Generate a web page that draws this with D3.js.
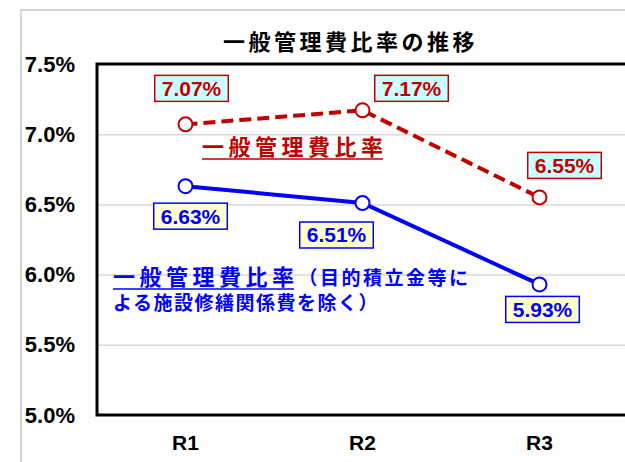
<!DOCTYPE html>
<html lang="ja">
<head>
  <meta charset="UTF-8">
  <title>一般管理費比率の推移</title>
  <script src="https://d3js.org/d3.v7.min.js"></script>
  <style>
    body { margin: 0; background: #fff; }
    .gridlines .domain { stroke: none; }
    .gridlines line { stroke: #d9d9d9; stroke-width: 1.5; }
    .axis .domain { stroke: none; }
    .axis text { font: bold 22px Arial, "Liberation Sans", sans-serif; fill: #000; }
    .xaxis text { font-size: 21px; }
  </style>
</head>
<body>
<svg id="chart" width="625" height="462"></svg>
<script>
  // data
  const categories = ["R1", "R2", "R3"];
  const ratioAll = [7.07, 7.17, 6.55];     // 一般管理費比率
  const ratioExcl = [6.63, 6.51, 5.93];    // 目的積立金等による施設修繕関係費を除く
  const yTicks = [5.0, 5.5, 6.0, 6.5, 7.0, 7.5];

  const svg = d3.select("svg#chart");
  const jp = "'Noto Sans CJK JP', 'Noto Sans', sans-serif";
  const red = "#c00000", blue = "#0000ff";

  let margin = {top: 64, left: 97, bottom: 47};
  let plotRight = 628;
  let plotBottom = 462 - margin.bottom;

  // outer frame (gray)
  svg.append("rect")
     .attr("x", 21).attr("y", 10)
     .attr("width", 700).attr("height", 500)
     .style("fill", "none")
     .style("stroke", "#c8c8c8")
     .style("stroke-width", 1.5);

  const x = d3.scaleBand().domain(categories).range([margin.left, plotRight]);
  const y = d3.scaleLinear().domain([5.0, 7.5]).range([plotBottom, margin.top]);
  const cx = d => x(d) + x.bandwidth() / 2;

  // gridlines
  svg.append("g")
     .attr("class", "gridlines")
     .attr("transform", `translate(${margin.left},0)`)
     .call(d3.axisLeft(y).tickValues(yTicks.slice(1, -1)).tickFormat("").tickSize(-(plotRight - margin.left)));

  // plot frame
  svg.append("path")
     .attr("d", `M${plotRight + 5},${margin.top}H${margin.left}V${plotBottom}H${plotRight + 5}`)
     .style("fill", "none")
     .style("stroke", "#000")
     .style("stroke-width", 3);

  // axes
  svg.append("g")
     .attr("class", "axis")
     .attr("transform", `translate(${margin.left},0)`)
     .call(d3.axisLeft(y).tickValues(yTicks).tickFormat(d => d.toFixed(1) + "%").tickSize(0).tickPadding(22));

  svg.append("g")
     .attr("class", "axis xaxis")
     .attr("transform", `translate(0,${plotBottom})`)
     .call(d3.axisBottom(x).tickSize(0).tickPadding(20));

  // title
  svg.append("text")
     .attr("x", 223).attr("y", 50)
     .style("font", `bold 22px ${jp}`)
     .style("letter-spacing", "3.5px")
     .text("一般管理費比率の推移");

  const line = d3.line().x((d, i) => cx(categories[i])).y(d => y(d));

  function drawSeries(values, color, dash, fill, offsets) {
    svg.append("path")
       .datum(values)
       .attr("d", line)
       .style("fill", "none")
       .style("stroke", color)
       .style("stroke-width", 4)
       .style("stroke-dasharray", dash);

    values.forEach((v, i) => {
      svg.append("circle")
         .attr("cx", cx(categories[i]))
         .attr("cy", y(v))
         .attr("r", 7)
         .style("fill", "#fff")
         .style("stroke", color)
         .style("stroke-width", 2);
    });

    values.forEach((v, i) => {
      let px = cx(categories[i]) + offsets[i][0];
      let py = y(v) + offsets[i][1];
      let g = svg.append("g");
      let rect = g.append("rect");
      let t = g.append("text")
               .attr("x", px).attr("y", py)
               .attr("text-anchor", "middle")
               .attr("dominant-baseline", "central")
               .style("font", "bold 21px Arial, 'Liberation Sans', sans-serif")
               .style("fill", color)
               .text(v.toFixed(2) + "%");
      let w = t.node().getComputedTextLength() + 14;
      rect.attr("x", px - w / 2).attr("y", py - 13)
          .attr("width", w).attr("height", 26)
          .style("fill", fill)
          .style("stroke", color)
          .style("stroke-width", 1.5);
    });
  }

  // label offsets from the point (px)
  const offsetsAll = [[6, -36], [49, -22], [25, -32]];
  const offsetsExcl = [[5, 30], [-26, 32], [3, 25]];

  drawSeries(ratioAll, red, "12,6", "#ccffff", offsetsAll);
  drawSeries(ratioExcl, blue, null, "#ffffcc", offsetsExcl);

  // series names
  function underlined(parent, xPos, yPos, str, color, size, spacing) {
    let t = parent.append("text")
                  .attr("x", xPos).attr("y", yPos)
                  .style("font", `bold ${size}px ${jp}`)
                  .style("letter-spacing", spacing + "px")
                  .style("fill", color)
                  .text(str);
    let w = t.node().getComputedTextLength() - spacing;
    parent.append("line")
          .attr("x1", xPos).attr("x2", xPos + w)
          .attr("y1", yPos + 4).attr("y2", yPos + 4)
          .style("stroke", color)
          .style("stroke-width", 1.5);
    return xPos + w + spacing;
  }

  underlined(svg, 202, 155, "一般管理費比率", red, 22, 4.5);

  let endX = underlined(svg, 113, 285, "一般管理費比率", blue, 22, 4.5);
  svg.append("text")
     .attr("x", endX).attr("y", 285)
     .style("font", `bold 19px ${jp}`)
     .style("letter-spacing", "2.5px")
     .style("fill", blue)
     .text("（目的積立金等に");
  svg.append("text")
     .attr("x", 113).attr("y", 310)
     .style("font", `bold 19px ${jp}`)
     .style("letter-spacing", "1.5px")
     .style("fill", blue)
     .text("よる施設修繕関係費を除く）");
</script>
</body>
</html>
